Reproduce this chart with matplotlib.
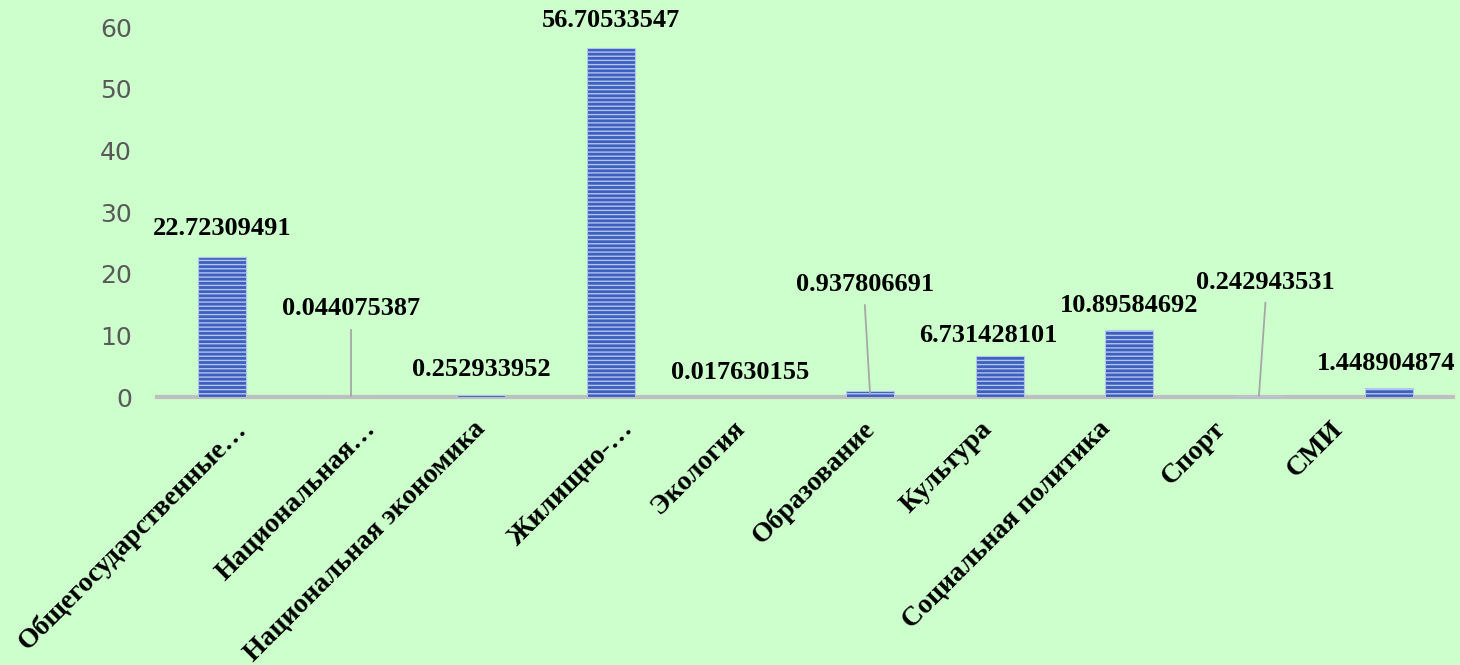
import matplotlib.pyplot as plt
import matplotlib.transforms as mtransforms
import numpy as np

categories = ['Общегосударственные…', 'Национальная…', 'Национальная экономика',
              'Жилищно-…', 'Экология', 'Образование', 'Культура',
              'Социальная политика', 'Спорт', 'СМИ']
values = [22.72309491, 0.044075387, 0.252933952, 56.70533547, 0.017630155,
          0.937806691, 6.731428101, 10.89584692, 0.242943531, 1.448904874]
yticks = [0, 10, 20, 30, 40, 50, 60]

# label placement (x offset in category units, y centre in data units)
label_dx = [0.0, 0.0, 0.0, 0.0, 0.0, -0.04, -0.09, 0.0, 0.05, -0.02]
label_y = [27.4, 14.3, 4.4, 61.1, 4.05, 18.2, 10.05, 14.9, 18.6, 5.5]
# leader line top (data units), None = no line
leader_top = [None, 10.9, None, None, None, 14.9, None, None, 15.3, None]
# tick label shift in pixels (Excel places rotated labels unevenly)
tick_shift = [12, 12, -8, 10, -8, -8, -20, -32, -46, -58]

bg = '#ccffcc'
fig = plt.figure(figsize=(14.6, 6.65), dpi=100, facecolor=bg)
ax = fig.add_axes([0.1075, 0.403, 0.888, 0.556], facecolor=bg)

x = np.arange(len(categories))
ax.bar(x, values, width=0.37, color='#3d5fbe', edgecolor='#b3c4ee',
       linewidth=0.8, hatch='----', zorder=3)

ax.set_xlim(-0.5, len(categories) - 0.5)
ax.set_ylim(0, 60)
ax.set_yticks(yticks)
ax.tick_params(axis='y', length=0, pad=18, labelsize=18, labelcolor='#595959')
ax.tick_params(axis='x', length=0, pad=14)
for s in ['top', 'right', 'left']:
    ax.spines[s].set_visible(False)
ax.spines['bottom'].set_color('#bfbfbf')
ax.spines['bottom'].set_linewidth(3)

ax.set_xticks(x)
ax.set_xticklabels(categories, rotation=45, ha='right', rotation_mode='anchor',
                   fontfamily='Liberation Serif', fontweight='bold', fontsize=20)
for lab, dx in zip(ax.get_xticklabels(), tick_shift):
    lab.set_transform(lab.get_transform() +
                      mtransforms.ScaledTranslation(dx / 100, 0, fig.dpi_scale_trans))

for i, v in enumerate(values):
    lx = x[i] + label_dx[i]
    ax.text(lx, label_y[i], str(v), ha='center', va='center',
            fontfamily='Liberation Serif', fontweight='bold', fontsize=19,
            color='black', clip_on=False, zorder=5)
    if leader_top[i] is not None:
        ax.plot([lx, x[i]], [leader_top[i], v * 0.5 + 0.1], color='#a6a6a6',
                lw=1.3, zorder=4, clip_on=False)

fig.savefig('out.png', dpi=100, facecolor=bg)
